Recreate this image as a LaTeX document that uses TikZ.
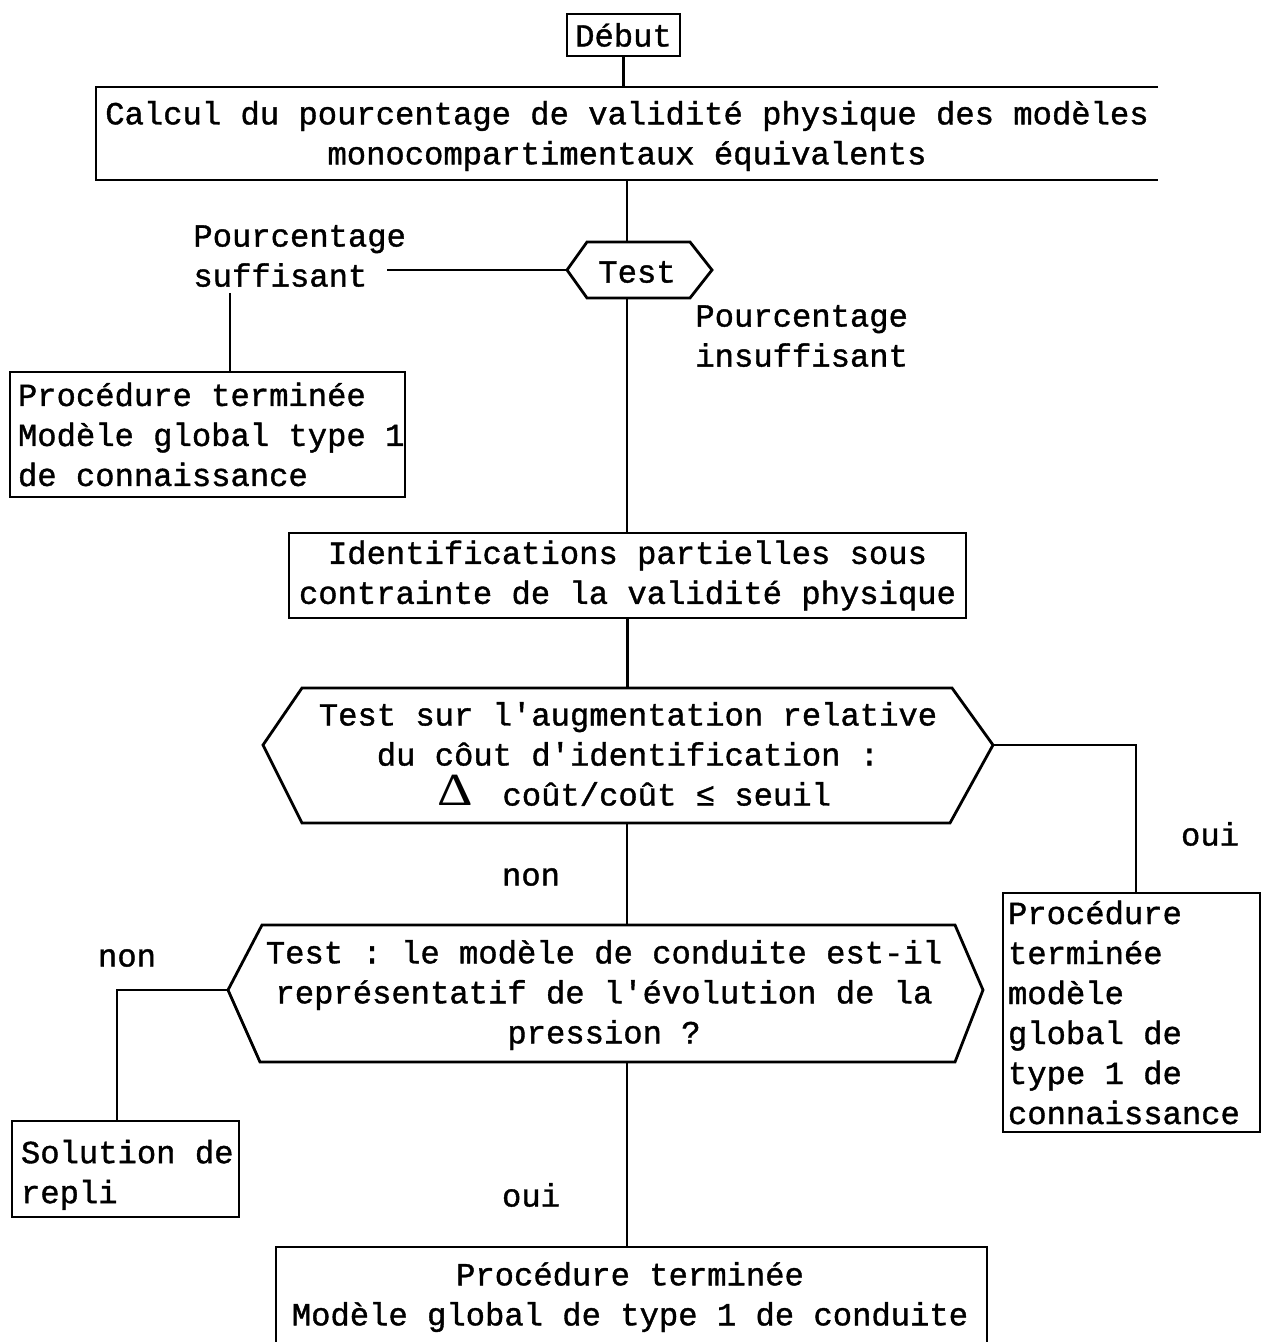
\documentclass[tikz,border=0pt]{standalone}
\usepackage{fontspec}
\newfontfamily\flowfont{Liberation Mono}[FakeBold=1.2, WordSpace={1,0,0}]
\newfontfamily\deltafont{Liberation Serif}
\newcommand{\deltasym}{\smash{\deltafont\fontsize{23pt}{20pt}\selectfont\scalebox{1.2}[1]{Δ}}}

\begin{document}
\begin{tikzpicture}[x=0.5pt, y=-0.5pt, line width=1.4pt,
  every node/.style={font=\flowfont\fontsize{16.1pt}{20pt}\selectfont\frenchspacing, inner sep=0pt},
  box/.style={draw, rectangle},
  lbox/.style={box, align=flush left}]

\useasboundingbox (0,0) rectangle (1268,1342);

% start
\node[box, minimum width=56.5pt, minimum height=21pt] (debut) at (623.5,35) {Début};

% first computation (frame open on the right)
\node[align=center] (calc) at (627,136)
  {Calcul du pourcentage de validité physique des modèles\\monocompartimentaux équivalents};
\draw (1158,87) -- (96,87) -- (96,180) -- (1158,180);
\coordinate (calcT) at (623.5,87);
\coordinate (calcB) at (627,180);
\draw (debut.south) -- (calcT);

% first test
\node (test) at (637,272) {Test};
\draw (567,270) -- (587,242) -- (690,242) -- (712,270) -- (690,298) -- (587,298) -- cycle;
\coordinate (testN) at (627,242);
\coordinate (testW) at (567,270);
\coordinate (testS) at (627,298);
\draw (calcB) -- (testN);

\node[align=flush left, anchor=west] (suff) at (192,256) {Pourcentage\\suffisant};
\coordinate (suffEnd) at (387,270);
\coordinate (suffDrop) at (230,293);
\draw (testW) -- (suffEnd);

\node[lbox, minimum width=197.5pt, minimum height=62.5pt, text width=189.5pt, inner xsep=4pt]
  (done1) at (207.5,434.5) {Procédure terminée\\\mbox{Modèle global type 1}\\de connaissance};
\draw (suffDrop) -- (suffDrop |- done1.north);

\node[align=flush left, anchor=west] (insuff) at (694,336) {Pourcentage\\insuffisant};

% partial identifications
\node[box, align=center, minimum width=338.5pt, minimum height=42.5pt]
  (ident) at (627.5,575.5) {Identifications partielles sous\\contrainte de la validité physique};
\draw (testS) -- (testS |- ident.north);

% cost test
\draw (263,745) -- (302,688) -- (952,688) -- (993,745) -- (950,823) -- (302,823) -- cycle;
\coordinate (h1N) at (627,688);
\coordinate (h1E) at (993,745);
\coordinate (h1S) at (627,823);
\node[align=center] (q1) at (628,754)
  {Test sur l'augmentation relative\\du côut d'identification :\\\hspace*{6pt}\deltasym\hspace{15pt}coût/coût ≤ seuil};
\draw (ident.south) -- (ident.south |- h1N);

\node[lbox, minimum width=128.5pt, minimum height=119.5pt, text width=123.5pt, inner xsep=2.5pt]
  (done2) at (1131.5,1012.5) {Procédure\\terminée\\modèle\\global de\\type 1 de\\connaissance};
\draw (h1E) -| ([xshift=2.25pt]done2.north);
\node (oui1) at (1210,834) {oui};
\node (non1) at (531,877) {non};

% model test
\draw (228,990) -- (262,925) -- (955,925) -- (983,990) -- (955,1062) -- (260,1062) -- cycle;
\coordinate (h2N) at (627,925);
\coordinate (h2W) at (228,990);
\coordinate (h2S) at (627,1062);
\node[align=center] (q2) at (604,995)
  {Test : le modèle de conduite est-il\\représentatif de l'évolution de la\\pression ?};
\draw (h1S) -- (h2N);

\node[lbox, minimum width=113.5pt, minimum height=48pt, text width=104.5pt, inner xsep=4.5pt]
  (repli) at (125.5,1169) {\rule{0pt}{17.5pt}\mbox{Solution de}\\repli};
\draw (h2W) -| ([xshift=-4.25pt]repli.north);
\node (non2) at (127,958) {non};
\node (oui2) at (531,1195) {oui};

% final result (frame runs off the lower edge)
\node[align=center] (fin) at (630,1297)
  {Procédure terminée\\Modèle global de type 1 de conduite};
\draw (276,1342) -- (276,1247) -- (987,1247) -- (987,1342);
\coordinate (finN) at (627,1247);
\draw (h2S) -- (finN);

\end{tikzpicture}
\end{document}
